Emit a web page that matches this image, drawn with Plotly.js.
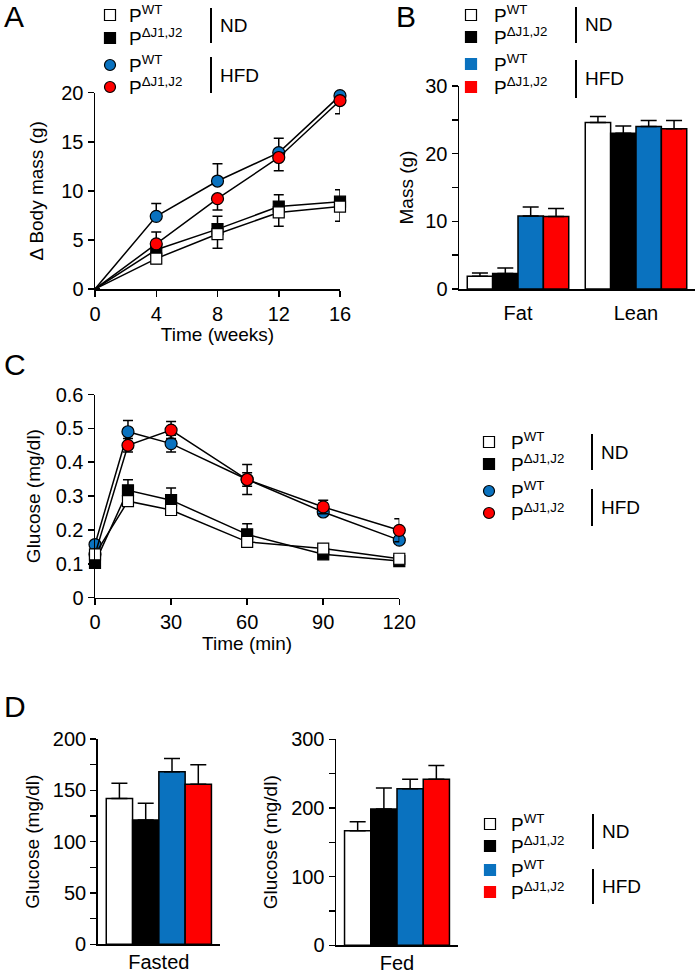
<!DOCTYPE html>
<html>
<head>
<meta charset="utf-8">
<script src="https://cdn.plot.ly/plotly-3.0.1.min.js"></script>
<style>html,body{margin:0;padding:0;background:#fff;}#chart{width:697px;height:973px;}</style>
</head>
<body>
<div id="chart"></div>
<script>
// ---------- DATA ----------
// Panel A: body mass gain
const weeks = [0, 4, 8, 12, 16];
const massWtND = [0, 3.1, 5.6, 7.8, 8.4];
const massWtNDerr = [0, 0.5, 1.45, 1.4, 1.5];
const massKoND = [0, 4.0, 6.1, 8.4, 8.9];
const massKoNDerr = [0, 1.8, 1.3, 1.2, 1.2];
const massWtHFD = [0, 7.4, 11.0, 13.9, 19.7];
const massWtHFDerr = [0, 1.3, 1.75, 1.45, 1.45];
const massKoHFD = [0, 4.6, 9.2, 13.4, 19.2];
const massKoHFDerr = [0, 0.7, 1.15, 1.35, 1.35];

// Panel B: body composition
const compCats = ['Fat', 'Lean'];
const compWtND = [1.9, 24.6];
const compWtNDerr = [0.45, 0.9];
const compKoND = [2.3, 23.0];
const compKoNDerr = [0.8, 1.1];
const compWtHFD = [10.8, 24.0];
const compWtHFDerr = [1.3, 0.9];
const compKoHFD = [10.7, 23.7];
const compKoHFDerr = [1.2, 1.2];

// Panel C: glucose tolerance
const minutes = [0, 13, 30, 60, 90, 120];
const gttWtND = [0.128, 0.285, 0.259, 0.165, 0.145, 0.115];
const gttWtNDerr = [0.01, 0.015, 0.015, 0.015, 0.01, 0.01];
const gttKoND = [0.103, 0.317, 0.288, 0.187, 0.128, 0.108];
const gttKoNDerr = [0.01, 0.031, 0.036, 0.031, 0.01, 0.008];
const gttWtHFD = [0.157, 0.490, 0.455, 0.349, 0.253, 0.170];
const gttWtHFDerr = [0.01, 0.033, 0.025, 0.02, 0.01, 0.01];
const gttKoHFD = [0.128, 0.450, 0.495, 0.349, 0.268, 0.199];
const gttKoHFDerr = [0.01, 0.02, 0.025, 0.044, 0.02, 0.034];

// Panel D: fasted / fed glucose (order: WT ND, KO ND, WT HFD, KO HFD)
const fastedCat = ['Fasted'];
const fastedVals = [142, 121, 168, 156];
const fastedErr = [15, 16.5, 13, 19];
const fedCat = ['Fed'];
const fedVals = [167, 198.5, 228, 242];
const fedErr = [13, 30.5, 14, 20];

// Legend / tick labels
const seriesLabels = ['P<sup>WT</sup>', 'P<sup>ΔJ1,J2</sup>', 'P<sup>WT</sup>', 'P<sup>ΔJ1,J2</sup>'];
const seriesNames = ['PWT ND', 'PΔJ1,J2 ND', 'PWT HFD', 'PΔJ1,J2 HFD'];
const dietLabels = ['ND', 'HFD'];
const panelLabels = ['A', 'B', 'C', 'D'];

// ---------- STYLE ----------
const W = 697, H = 973;
const FONT = 'Liberation Sans, Arial, sans-serif';
const BLUE = '#0a72bf', RED = '#fe0000';
const fills = ['#ffffff', '#000000', BLUE, RED];
const px = x => x / W;
const py = y => 1 - y / H;

function err(arr, dir, w) {
  const zeros = arr.map(() => 0);
  const e = {type: 'data', symmetric: false, color: '#000', thickness: 1.5, width: w, visible: true};
  if (dir === 'up') { e.array = arr; e.arrayminus = zeros; }
  else if (dir === 'down') { e.array = zeros; e.arrayminus = arr; }
  else { e.symmetric = true; e.array = arr; }
  return e;
}

function lineTrace(x, y, e, dir, i, xa, ya, hideFirst) {
  const isSq = i < 2;
  const sz = isSq ? 11 : 12;
  return {
    type: 'scatter', mode: 'lines+markers', x: x, y: y, name: seriesNames[i],
    xaxis: xa, yaxis: ya, cliponaxis: false, showlegend: false,
    line: {color: '#000', width: 1.5},
    marker: {symbol: isSq ? 'square' : 'circle', size: x.map((_, k) => (hideFirst && k === 0) ? 0 : sz),
      opacity: 1, color: fills[i], line: {color: '#000', width: 1.2}},
    error_y: err(e, dir, 5)
  };
}

function barTrace(x, y, e, i, xa, ya) {
  return {
    type: 'bar', x: x, y: y, name: seriesNames[i], xaxis: xa, yaxis: ya, showlegend: false,
    marker: {color: fills[i], line: {color: '#000', width: 1.5}},
    error_y: err(e, 'up', 8), cliponaxis: false
  };
}

const data = [
  // A
  lineTrace(weeks, massKoND, massKoNDerr, 'up', 1, 'x', 'y', true),
  lineTrace(weeks, massWtND, massWtNDerr, 'down', 0, 'x', 'y', true),
  lineTrace(weeks, massWtHFD, massWtHFDerr, 'up', 2, 'x', 'y', true),
  lineTrace(weeks, massKoHFD, massKoHFDerr, 'down', 3, 'x', 'y', true),
  // B
  barTrace(compCats, compWtND, compWtNDerr, 0, 'x2', 'y2'),
  barTrace(compCats, compKoND, compKoNDerr, 1, 'x2', 'y2'),
  barTrace(compCats, compWtHFD, compWtHFDerr, 2, 'x2', 'y2'),
  barTrace(compCats, compKoHFD, compKoHFDerr, 3, 'x2', 'y2'),
  // C
  lineTrace(minutes, gttWtHFD, gttWtHFDerr, 'both', 2, 'x3', 'y3', false),
  lineTrace(minutes, gttKoHFD, gttKoHFDerr, 'both', 3, 'x3', 'y3', false),
  lineTrace(minutes, gttKoND, gttKoNDerr, 'up', 1, 'x3', 'y3', false),
  lineTrace(minutes, gttWtND, gttWtNDerr, 'down', 0, 'x3', 'y3', false),
];
// D
for (let i = 0; i < 4; i++) data.push(barTrace(fastedCat, [fastedVals[i]], [fastedErr[i]], i, 'x4', 'y4'));
for (let i = 0; i < 4; i++) data.push(barTrace(fedCat, [fedVals[i]], [fedErr[i]], i, 'x5', 'y5'));

function ax(o) {
  return Object.assign({
    showline: true, linecolor: '#000', linewidth: 1.5, showgrid: false, zeroline: false,
    ticks: 'outside', ticklen: 6, tickwidth: 1.5, tickcolor: '#000',
    tickfont: {family: FONT, size: 20, color: '#000'}, fixedrange: true
  }, o);
}
function minor(d) { return {dtick: d, ticks: 'outside', ticklen: 6, tickwidth: 1.5, tickcolor: '#000', showgrid: false}; }
function ttl(t, s) { return {text: t, font: {family: FONT, size: 19, color: '#000'}, standoff: s}; }

const layout = {
  width: W, height: H, margin: {l: 0, r: 0, t: 0, b: 0},
  paper_bgcolor: '#fff', plot_bgcolor: 'rgba(0,0,0,0)',
  font: {family: FONT, color: '#000'},
  barmode: 'group', bargap: 0.14, bargroupgap: 0,
  showlegend: false,
  // A
  xaxis: ax({domain: [px(95), px(340)], range: [0, 16], tickvals: weeks, anchor: 'y', title: ttl('Time (weeks)', 4)}),
  yaxis: ax({domain: [py(289), py(92.7)], range: [0, 20], dtick: 5, anchor: 'x', title: ttl('Δ Body mass (g)', 12)}),
  // B
  xaxis2: ax({domain: [px(459), px(695)], range: [-0.5, 1.5], type: 'category', ticks: '', ticklabelstandoff: 5, anchor: 'y2'}),
  yaxis2: ax({domain: [py(289), py(86)], range: [0, 30], anchor: 'x2', tick0: 0, dtick: 10, minor: minor(5), title: ttl('Mass (g)', 6)}),
  // C
  xaxis3: ax({domain: [px(95), px(399.3)], range: [0, 120], tickvals: [0, 30, 60, 90, 120], anchor: 'y3', title: ttl('Time (min)', 4)}),
  yaxis3: ax({domain: [py(597.7), py(394.5)], range: [0, 0.6], tickvals: [0, 0.1, 0.2, 0.3, 0.4, 0.5, 0.6], anchor: 'x3', title: ttl('Glucose (mg/dl)', 10)}),
  // D fasted
  xaxis4: ax({domain: [px(97.7), px(220)], range: [-0.5, 0.5], type: 'category', ticks: '', ticklabelstandoff: -1, anchor: 'y4'}),
  yaxis4: ax({domain: [py(944.3), py(739)], range: [0, 200], anchor: 'x4', tick0: 0, dtick: 50, minor: minor(25), title: ttl('Glucose (mg/dl)', 8)}),
  // D fed
  xaxis5: ax({domain: [px(336), px(458)], range: [-0.5, 0.5], type: 'category', ticks: '', ticklabelstandoff: -1, anchor: 'y5'}),
  yaxis5: ax({domain: [py(945.3), py(739.3)], range: [0, 300], anchor: 'x5', tick0: 0, dtick: 100, minor: minor(50), title: ttl('Glucose (mg/dl)', 8)}),
  shapes: [], annotations: []
};

// panel letters
const letterPos = [[14, 17], [406, 16], [15, 365], [15, 706]];
panelLabels.forEach((l, i) => layout.annotations.push({
  xref: 'paper', yref: 'paper', x: px(letterPos[i][0]), y: py(letterPos[i][1]), text: l, showarrow: false,
  xanchor: 'center', yanchor: 'middle', font: {family: FONT, size: 30, color: '#000'}
}));

// custom grouped legends
function legend(symX, textX, barX, rows, barSpans, kind) {
  rows.forEach((ry, i) => {
    const s = 5.5;
    const circle = kind === 'line' && i >= 2;
    layout.shapes.push({
      type: circle ? 'circle' : 'rect', xref: 'paper', yref: 'paper',
      x0: px(symX - s), x1: px(symX + s), y0: py(ry + s), y1: py(ry - s),
      fillcolor: fills[i], line: {color: (kind === 'bar' && i >= 2) ? fills[i] : '#000', width: 1.2}
    });
    layout.annotations.push({
      xref: 'paper', yref: 'paper', x: px(textX), y: py(ry - 1), text: seriesLabels[i], showarrow: false,
      xanchor: 'left', yanchor: 'middle', font: {family: FONT, size: 19, color: '#000'}
    });
  });
  barSpans.forEach((b, j) => {
    layout.shapes.push({type: 'line', xref: 'paper', yref: 'paper', x0: px(barX), x1: px(barX), y0: py(b[0]), y1: py(b[1]), line: {color: '#000', width: 2}});
    layout.annotations.push({
      xref: 'paper', yref: 'paper', x: px(barX + 7), y: py((b[0] + b[1]) / 2), text: dietLabels[j], showarrow: false,
      xanchor: 'left', yanchor: 'middle', font: {family: FONT, size: 19, color: '#000'}
    });
  });
}
legend(110, 127, 211, [15, 38, 65, 87], [[8, 43], [57, 93]], 'line');
legend(471, 492, 576, [15, 37, 64, 87], [[7, 43], [60, 98]], 'bar');
legend(489, 509, 592, [442, 464, 491, 513], [[434, 470], [489, 526]], 'line');
legend(490, 509, 593, [824, 846, 870, 892], [[814, 849], [869, 904]], 'bar');

Plotly.newPlot('chart', data, layout, {staticPlot: true, displayModeBar: false});
</script>
</body>
</html>
